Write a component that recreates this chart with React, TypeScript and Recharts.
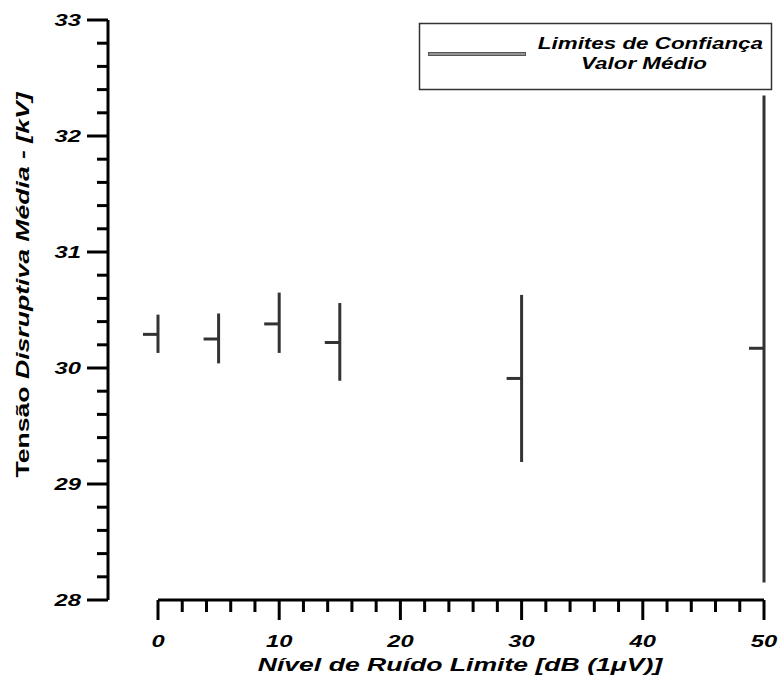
import React from 'react';
import { ScatterChart, Scatter, XAxis, YAxis, ErrorBar, ReferenceLine } from 'recharts';

// ---- data ----
const noiseLevels = [0, 5, 10, 15, 30, 50];
const meanVoltage = [30.29, 30.25, 30.38, 30.22, 29.91, 30.17];
const lowerLimit = [30.13, 30.04, 30.13, 29.89, 29.19, 28.15];
const upperLimit = [30.46, 30.47, 30.65, 30.56, 30.63, 32.35];

const xMajorTicks = [0, 10, 20, 30, 40, 50];
const xTicks = [0, 2, 4, 6, 8, 10, 12, 14, 16, 18, 20, 22, 24, 26, 28, 30, 32, 34, 36, 38, 40, 42, 44, 46, 48, 50];
const yMajorTicks = [28, 29, 30, 31, 32, 33];
const yTicks = [28, 28.2, 28.4, 28.6, 28.8, 29, 29.2, 29.4, 29.6, 29.8, 30, 30.2, 30.4, 30.6, 30.8, 31, 31.2, 31.4, 31.6, 31.8, 32, 32.2, 32.4, 32.6, 32.8, 33];

const xTitle = 'Nível de Ruído Limite [dB (1μV)]';
const yTitleUpright = 'Tensão ';
const yTitleItalic = 'Disruptiva Média - [kV]';
const legendLine1 = 'Limites de Confiança';
const legendLine2 = 'Valor Médio';

const data = noiseLevels.map((x, i) => ({
  x,
  y: meanVoltage[i],
  err: [meanVoltage[i] - lowerLimit[i], upperLimit[i] - meanVoltage[i]],
}));

const FONT = '"Liberation Sans", Arial, sans-serif';
const STRETCH = 1.4;
const BAR = '#333333';

const isMajor = (v: number, majors: number[]) => majors.some((m) => Math.abs(m - v) < 1e-6);

const XTick = (props: any) => {
  const { x, y, payload } = props;
  const major = isMajor(payload.value, xMajorTicks);
  return (
    <g>
      <line x1={x} y1={y} x2={x} y2={y + (major ? 20 : 12)} stroke="#000" strokeWidth={3} />
      {major && (
        <text
          transform={`translate(${x},${y + 41}) scale(${STRETCH},1)`}
          textAnchor="middle"
          dominantBaseline="central"
          fontFamily={FONT}
          fontWeight="bold"
          fontStyle="italic"
          fontSize={17}
          fill="#000"
        >
          {payload.value}
        </text>
      )}
    </g>
  );
};

const YTick = (props: any) => {
  const { x, y, payload } = props;
  const major = isMajor(payload.value, yMajorTicks);
  return (
    <g>
      <line x1={x - (major ? 21 : 11)} y1={y} x2={x} y2={y} stroke="#000" strokeWidth={3} />
      {major && (
        <text
          transform={`translate(${x - 27},${y}) scale(${STRETCH},1)`}
          textAnchor="end"
          dominantBaseline="central"
          fontFamily={FONT}
          fontWeight="bold"
          fontStyle="italic"
          fontSize={17}
          fill="#000"
        >
          {Math.round(payload.value)}
        </text>
      )}
    </g>
  );
};

const MeanMark = (props: any) => {
  const { cx, cy } = props;
  return <line x1={cx - 15} y1={cy} x2={cx} y2={cy} stroke={BAR} strokeWidth={3} />;
};

const XTitle = () => (
  <text
    transform={`translate(460,664) scale(${STRETCH},1)`}
    textAnchor="middle"
    dominantBaseline="central"
    fontFamily={FONT}
    fontWeight="bold"
    fontStyle="italic"
    fontSize={19}
    fill="#000"
  >
    {xTitle}
  </text>
);

const YTitle = () => (
  <text
    transform={`translate(22,285) rotate(-90) scale(${STRETCH},1)`}
    textAnchor="middle"
    dominantBaseline="central"
    fontFamily={FONT}
    fontWeight="bold"
    fontSize={19}
    fill="#000"
  >
    <tspan>{yTitleUpright}</tspan>
    <tspan fontStyle="italic">{yTitleItalic}</tspan>
  </text>
);

const LegendBox = () => (
  <svg width={779} height={681} style={{ position: 'absolute', left: 0, top: 0, pointerEvents: 'none' }}>
    <rect x={419.5} y={23.5} width={352} height={66} fill="#fff" stroke="#333" strokeWidth={1.5} />
    <line x1={428} y1={54} x2={526} y2={54} stroke="#555" strokeWidth={4} />
    <line x1={429} y1={54} x2={525} y2={54} stroke="#a8a8a8" strokeWidth={1.5} />
    <text
      transform={`translate(763,43) scale(${STRETCH},1)`}
      textAnchor="end"
      dominantBaseline="central"
      fontFamily={FONT}
      fontWeight="bold"
      fontStyle="italic"
      fontSize={16}
      fill="#000"
    >
      {legendLine1}
    </text>
    <text
      transform={`translate(644,63) scale(${STRETCH},1)`}
      textAnchor="middle"
      dominantBaseline="central"
      fontFamily={FONT}
      fontWeight="bold"
      fontStyle="italic"
      fontSize={16}
      fill="#000"
    >
      {legendLine2}
    </text>
  </svg>
);

export default function App() {
  return (
    <div style={{ position: 'absolute', left: 0, top: 0, width: 779, height: 681, background: '#fff' }}>
      <ScatterChart width={779} height={681} margin={{ top: 20, right: 15, left: 0, bottom: 0 }}>
        <XAxis
          type="number"
          dataKey="x"
          domain={[-4.125, 50]}
          ticks={xTicks}
          interval={0}
          allowDataOverflow
          axisLine={false}
          tickLine={false}
          tickSize={0}
          tickMargin={0}
          height={81}
          tick={<XTick />}
          label={{ content: XTitle } as any}
        />
        <YAxis
          type="number"
          dataKey="y"
          domain={[28, 33]}
          ticks={yTicks}
          interval={0}
          allowDataOverflow
          axisLine={{ stroke: '#000', strokeWidth: 3 }}
          tickLine={false}
          tickSize={0}
          tickMargin={0}
          width={108}
          tick={<YTick />}
          label={{ content: YTitle } as any}
        />
        <ReferenceLine
          segment={[{ x: 0, y: 28 }, { x: 50, y: 28 }]}
          stroke="#000"
          strokeWidth={3}
          ifOverflow="visible"
        />
        <Scatter data={data} shape={<MeanMark />} isAnimationActive={false}>
          <ErrorBar dataKey="err" direction="y" width={0} stroke={BAR} strokeWidth={3} isAnimationActive={false} />
        </Scatter>
      </ScatterChart>
      <LegendBox />
    </div>
  );
}
